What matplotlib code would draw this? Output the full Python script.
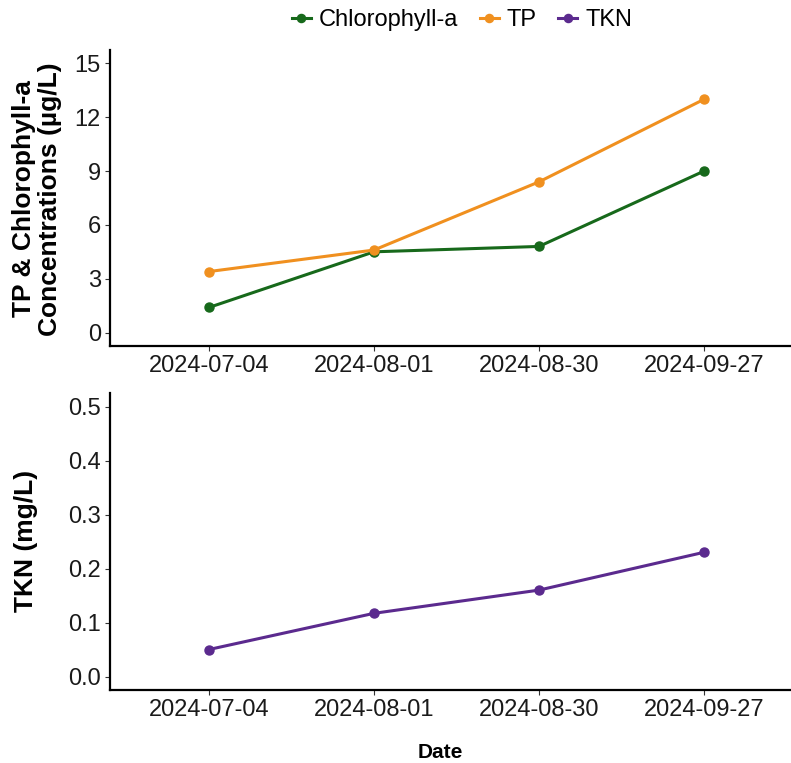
import matplotlib
matplotlib.use("Agg")
import matplotlib.pyplot as plt

plt.rcParams['font.family'] = ['Liberation Sans', 'DejaVu Sans']

# data
dates = ["2024-07-04", "2024-08-01", "2024-08-30", "2024-09-27"]
chla = [1.4, 4.5, 4.8, 9.0]
tp = [3.4, 4.6, 8.4, 13.0]
tkn = [0.05, 0.117, 0.16, 0.23]

top_ticks = [0, 3, 6, 9, 12, 15]
bot_ticks = [0.0, 0.1, 0.2, 0.3, 0.4, 0.5]

c_chla = '#17691b'
c_tp = '#f0901f'
c_tkn = '#5b2a8e'

W, H = 791, 763
fig = plt.figure(figsize=(W / 100, H / 100), dpi=100)

def box(l, t, r, b):
    return [l / W, 1 - b / H, (r - l) / W, (b - t) / H]

ax1 = fig.add_axes(box(110, 50, 791, 346))
ax2 = fig.add_axes(box(110, 393, 791, 690))

xs = list(range(1, len(dates) + 1))

l1, = ax1.plot(xs, chla, color=c_chla, lw=2.2, marker='o', ms=6.5, label='Chlorophyll-a')
l2, = ax1.plot(xs, tp, color=c_tp, lw=2.2, marker='o', ms=6.5, label='TP')
l3, = ax2.plot(xs, tkn, color=c_tkn, lw=2.2, marker='o', ms=6.5, label='TKN')

for ax in (ax1, ax2):
    ax.set_xlim(0.4, 0.4 + 681 / 165)
    ax.set_xticks(xs)
    ax.set_xticklabels(dates)
    for s in ('top', 'right'):
        ax.spines[s].set_visible(False)
    for s in ('left', 'bottom'):
        ax.spines[s].set_linewidth(1.6)
    ax.tick_params(axis='both', labelsize=17, length=3.5, width=0.8,
                   color='#333333', labelcolor='#1a1a1a', pad=3)

ax1.set_ylim(-0.75, 15.75)
ax1.set_yticks(top_ticks)
ax1.set_yticklabels([str(t) for t in top_ticks])
ax2.set_ylim(-0.025, 0.525)
ax2.set_yticks(bot_ticks)
ax2.set_yticklabels([f"{t:.1f}" for t in bot_ticks])

fig.text(37 / W, 1 - 199 / H, "TP & Chlorophyll-a\nConcentrations (µg/L)",
         rotation=90, ha='center', va='center', multialignment='center',
         fontsize=19, fontweight='bold', linespacing=1.15)
fig.text(26 / W, 1 - 541 / H, "TKN (mg/L)", rotation=90, ha='center',
         va='center', fontsize=19, fontweight='bold')
fig.text(440 / W, 1 - 752 / H, "Date", ha='center', va='center',
         fontsize=15, fontweight='bold')

fig.legend(handles=[l1, l2, l3], loc='center', bbox_to_anchor=(462 / W, 1 - 20 / H),
           ncol=3, frameon=False, fontsize=17, handlelength=0.8,
           handletextpad=0.35, columnspacing=0.9, markerscale=0.9)

fig.savefig("out.png", dpi=100)
